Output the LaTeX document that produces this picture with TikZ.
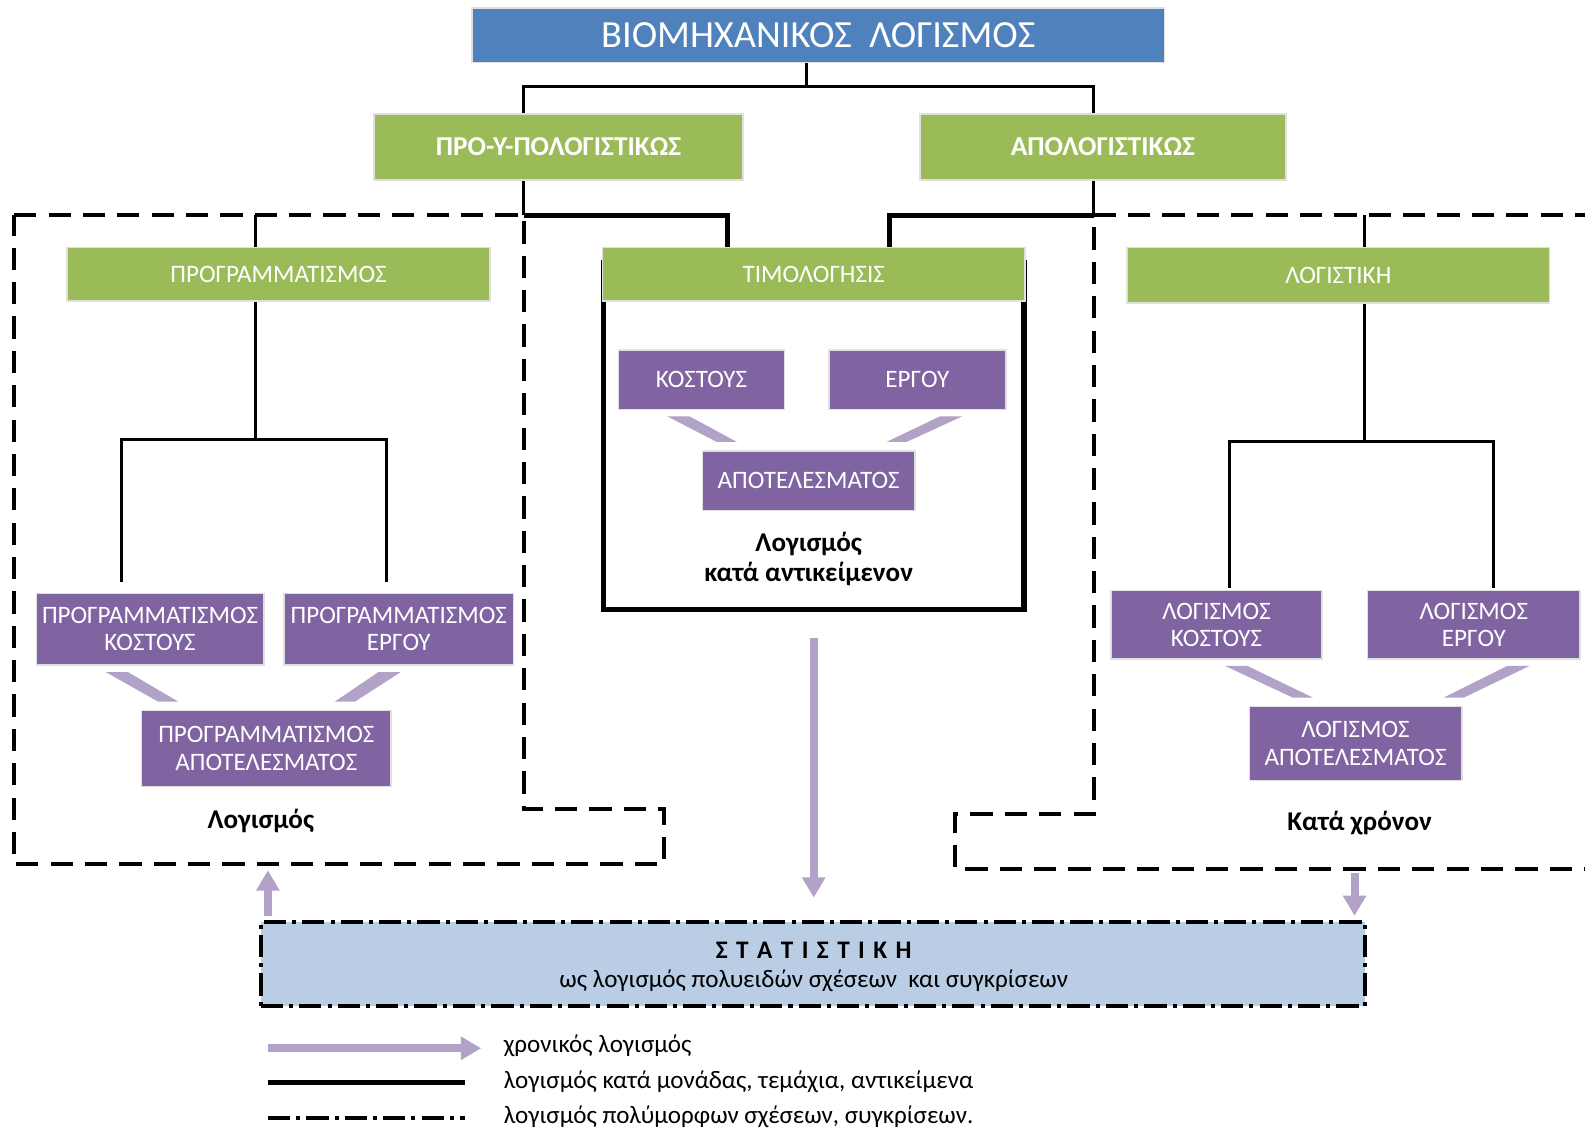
\documentclass[tikz,border=0pt]{standalone}
\usepackage{fontspec}
\setmainfont{Carlito}
\usetikzlibrary{arrows.meta, calc}
\definecolor{titleblue}{RGB}{79,129,189}
\definecolor{branchgreen}{RGB}{155,187,89}
\definecolor{leafpurple}{RGB}{128,100,162}
\definecolor{linkpurple}{RGB}{179,162,199}
\definecolor{statblue}{RGB}{185,205,229}

\tikzset{
  box/.style={rectangle, text=white, align=center, inner sep=0pt, draw=black!12, line width=0.8pt},
  titlebox/.style={box, fill=titleblue, font=\fontsize{19}{21}\selectfont},
  greenbox/.style={box, fill=branchgreen, font=\fontsize{12.4}{14}\selectfont},
  purplebox/.style={box, fill=leafpurple, font=\fontsize{12.4}{13.5}\selectfont},
  tree/.style={line width=1.5pt},
  heavy/.style={line width=2.6pt},
  region/.style={line width=2pt, dash pattern=on 11pt off 6pt},
  dashdot/.style={line width=2pt, dash pattern=on 11pt off 3pt on 2pt off 3pt},
  timearrow/.style={linkpurple, line width=4pt, -{Triangle[width=11pt,length=10pt]}},
  wedge/.style={fill=linkpurple},
  caption/.style={font=\bfseries\fontsize{13.4}{15}\selectfont, align=center},
  legendtext/.style={anchor=west, inner sep=0pt, font=\fontsize{12.4}{14}\selectfont},
}

% slanted band from one box down to another
\newcommand{\wedgelink}[4]{%
  \fill[wedge] ($(#1.south)+(#3,6)$) -- ++(22,0) -- ($(#2.north)+(#4+20,-8)$) -- ++(-20,0) -- cycle;}

\begin{document}
\begin{tikzpicture}[x=0.5pt, y=-0.5pt]
    \useasboundingbox (0,0) rectangle (1568,1118);

    % πλαίσια
    \draw[region] (14,213) -- (518,213) -- (518,800) -- (657,800) -- (657,855) -- (14,855) -- cycle;
    \draw[region] (1580,213) -- (1082,213) -- (1082,805) -- (945,805) -- (945,860) -- (1580,860);
    \node[heavy, draw, minimum width=208pt, minimum height=171.5pt, inner sep=0pt] (timoframe) at (805,431.5) {};

    % κορυφή
    \node[titlebox, minimum width=342.5pt, minimum height=27pt] (title) at (809.5,35) {ΒΙΟΜΗΧΑΝΙΚΟΣ~~ΛΟΓΙΣΜΟΣ};
    \node[greenbox, font=\bfseries\fontsize{13.5}{15}\selectfont, minimum width=182.5pt, minimum height=32.5pt] (pro) at (552.5,145.5) {ΠΡΟ-Υ-ΠΟΛΟΓΙΣΤΙΚΩΣ};
    \node[greenbox, font=\bfseries\fontsize{13.5}{15}\selectfont, minimum width=181pt, minimum height=32.5pt] (apo) at (1091,145.5) {ΑΠΟΛΟΓΙΣΤΙΚΩΣ};

    % κλάδοι
    \node[greenbox, minimum width=209.5pt, minimum height=26.5pt] (prog) at (275.5,271.5) {ΠΡΟΓΡΑΜΜΑΤΙΣΜΟΣ};
    \node[greenbox, minimum width=209pt, minimum height=26.5pt] (timo) at (805,271.5) {ΤΙΜΟΛΟΓΗΣΙΣ};
    \node[greenbox, minimum width=209pt, minimum height=27.5pt] (logist) at (1324,272.5) {ΛΟΓΙΣΤΙΚΗ};

    % φύλλα
    \node[purplebox, minimum width=112.5pt, minimum height=35.5pt] (pcost) at (148.5,622.5) {ΠΡΟΓΡΑΜΜΑΤΙΣΜΟΣ\\ΚΟΣΤΟΥΣ};
    \node[purplebox, minimum width=113.5pt, minimum height=35.5pt] (perg) at (394.5,622.5) {ΠΡΟΓΡΑΜΜΑΤΙΣΜΟΣ\\ΕΡΓΟΥ};
    \node[purplebox, minimum width=123.5pt, minimum height=37.5pt] (papot) at (263.5,740.5) {ΠΡΟΓΡΑΜΜΑΤΙΣΜΟΣ\\ΑΠΟΤΕΛΕΣΜΑΤΟΣ};

    \node[purplebox, minimum width=82pt, minimum height=29.5pt] (kost) at (694,375.5) {ΚΟΣΤΟΥΣ};
    \node[purplebox, minimum width=87.5pt, minimum height=29.5pt] (erg) at (907.5,375.5) {ΕΡΓΟΥ};
    \node[purplebox, minimum width=105pt, minimum height=29.5pt] (apot) at (800,475.5) {ΑΠΟΤΕΛΕΣΜΑΤΟΣ};

    \node[purplebox, minimum width=104.5pt, minimum height=34pt] (lcost) at (1203.5,618) {ΛΟΓΙΣΜΟΣ\\ΚΟΣΤΟΥΣ};
    \node[purplebox, minimum width=105pt, minimum height=34pt] (lerg) at (1458,618) {ΛΟΓΙΣΜΟΣ\\ΕΡΓΟΥ};
    \node[purplebox, minimum width=105pt, minimum height=36.5pt] (lapot) at (1341,735.5) {ΛΟΓΙΣΜΟΣ\\ΑΠΟΤΕΛΕΣΜΑΤΟΣ};

    \node[caption] (capL) at (258,812) {Λογισμός};
    \node[caption] (capM) at (800,553) {Λογισμός\\κατά αντικείμενον};
    \node[caption] (capR) at (1345,814) {Κατά χρόνον};

    % στατιστική
    \node[draw, dashdot, fill=statblue, minimum width=546pt, minimum height=41.5pt] (stat) at (804,953.5) {};
    \node[font=\bfseries\fontsize{12.5}{14}\selectfont] (stattitle) at (805,940) {Σ\,\,Τ\,\,Α\,\,Τ\,\,Ι\,\,Σ\,\,Τ\,\,Ι\,\,Κ\,\,Η};
    \node[font=\fontsize{12.4}{14}\selectfont] (statsub) at (805,970) {ως λογισμός πολυειδών σχέσεων~~και συγκρίσεων};

    % γραμμές δέντρου
    \coordinate (top) at (798,86);
    \coordinate (proX) at (518,213);
    \coordinate (apoX) at (1082,213);
    \coordinate (timL) at (720,213);
    \coordinate (timR) at (880,213);
    \draw[tree] (title.south -| top) -- (top);
    \draw[tree] (pro.north -| proX) |- (top) -| (apo.north -| apoX);
    \draw[tree] (pro.south -| proX) -- (proX);
    \draw[tree] (apo.south -| apoX) -- (apoX);
    \draw[heavy] (proX) -| (timo.north -| timL);
    \draw[heavy] (apoX) -| (timo.north -| timR);

    \coordinate (progX) at (253,213);
    \coordinate (progJ) at (253,435);
    \coordinate (pcJ) at (120,435);
    \coordinate (peJ) at (382,435);
    \draw[tree] (progX) -- (prog.north -| progX);
    \draw[tree] (prog.south -| progJ) -- (progJ);
    \draw[tree, shorten <=5pt, shorten >=5pt] (pcost.north -| pcJ) |- (peJ) -- (perg.north -| peJ);

    \coordinate (logX) at (1350,213);
    \coordinate (logJ) at (1350,437);
    \coordinate (lcJ) at (1216,437);
    \coordinate (leJ) at (1477,437);
    \draw[tree] (logX) -- (logist.north -| logX);
    \draw[tree] (logist.south -| logJ) -- (logJ);
    \draw[tree, shorten <=1pt, shorten >=1pt] (lcost.north -| lcJ) |- (leJ) -- (lerg.north -| leJ);

    % σφήνες
    \wedgelink{pcost}{papot}{-44}{-107}
    \wedgelink{perg}{papot}{-20}{67.5}
    \wedgelink{kost}{apot}{-34}{-91}
    \wedgelink{erg}{apot}{22.5}{77}
    \wedgelink{lcost}{lapot}{8.5}{-62}
    \wedgelink{lerg}{lapot}{33}{87}

    % χρονικά βέλη
    \coordinate (leftbot) at (265,855);
    \coordinate (rightbot) at (1340,860);
    \draw[timearrow, shorten <=13pt, shorten >=11pt] (timoframe.south) -- (timoframe.south |- stat.north);
    \draw[timearrow, shorten <=2pt, shorten >=3pt] (stat.north -| leftbot) -- (leftbot);
    \draw[timearrow, shorten <=2pt, shorten >=2pt] (rightbot) -- (stat.north -| rightbot);

    % υπόμνημα
    \node[legendtext] (lg1) at (498,1035) {χρονικός λογισμός};
    \node[legendtext] (lg2) at (498,1070) {λογισμός κατά μονάδας, τεμάχια, αντικείμενα};
    \node[legendtext] (lg3) at (498,1105) {λογισμός πολύμορφων σχέσεων, συγκρίσεων.};
    \coordinate (l1) at (265,1037);
    \coordinate (l2) at (265,1071);
    \coordinate (l3) at (265,1106);
    \draw[timearrow, shorten >=11pt] (l1) -- (l1 -| lg1.west);
    \draw[heavy, shorten >=19pt] (l2) -- (l2 -| lg2.west);
    \draw[dashdot, shorten >=19pt] (l3) -- (l3 -| lg3.west);
\end{tikzpicture}
\end{document}
